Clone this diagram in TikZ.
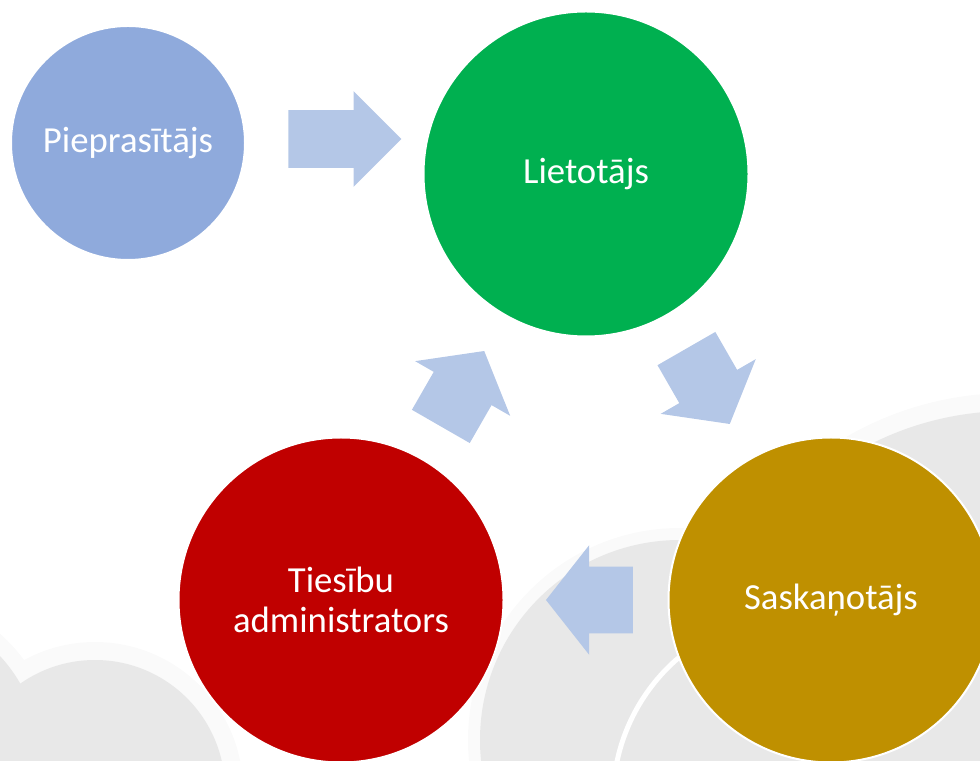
\documentclass[tikz,border=0pt]{standalone}
\usepackage{fontspec}
\setmainfont{Carlito}
\usepackage{xcolor}
\usepackage{tikz}
\usetikzlibrary{shapes.arrows,calc}
\definecolor{bultazila}{HTML}{B4C7E7}
\definecolor{pieprzila}{HTML}{8FAADC}
\definecolor{lietzala}{HTML}{00B050}
\definecolor{saskzelts}{HTML}{BF9000}
\definecolor{tiessarkana}{HTML}{C00000}
\definecolor{makpeleks}{HTML}{E8E8E8}
\definecolor{makmala}{HTML}{FAFAFA}
\tikzset{
  rolis/.style={circle,draw=white,line width=0.4mm,text=white,
    minimum size=65mm,inner sep=0pt,align=center,
    font=\fontsize{20.9}{22.8}\selectfont},
  bulta/.style={single arrow,fill=bultazila,draw=none,inner xsep=0pt,
    inner ysep=6.6mm,minimum height=17.4mm,single arrow head extend=4.3mm,
    single arrow tip angle=103.5,outer sep=0pt},
  lielbulta/.style={bulta,inner ysep=5.7mm,minimum height=22.6mm,
    single arrow head extend=3.8mm,single arrow tip angle=90,anchor=tail}
}

\begin{document}
\begin{tikzpicture}[
  x=0.2mm,y=0.2mm,
  makonis/.style={fill=makpeleks},
  mala/.style={fill=makmala}
]
\clip (0,0) rectangle (980,760);

% 1. Fons
\fill[mala] (1010,40) circle (327);
\fill[mala] (680,20) circle (212);
\fill[mala] (95,-30) circle (148);
\fill[mala] (-110,2) circle (166);
\fill[makonis] (1010,40) circle (309);
\fill[makonis] (680,20) circle (200);
\fill[makonis] (95,-30) circle (130);
\fill[makonis] (-110,2) circle (150);
\draw[white,line width=1mm] ($(800,-40)+(120:187)$) arc[start angle=120,end angle=180,radius=187];

% 2. Lomas
\node[rolis,fill=pieprzila,minimum size=46.8mm] (pie) at (128,617) {Pieprasītājs};
\node[rolis,fill=lietzala] (lie) at (586,586) {Lietotājs};
\node[rolis,fill=saskzelts] (sas) at (831,160) {Saskaņotājs};
\node[rolis,fill=tiessarkana] (tie) at (341,160) {Tiesību\\administrators};

% 3. Bultas
\path (pie.east) -- node[lielbulta,pos=0.24,yshift=0.8mm] (b1) {} (pie.east -| lie.west);
\path (lie) -- node[bulta,sloped,allow upside down,pos=0.415] (b2) {} (sas);
\path (sas) -- node[bulta,sloped,allow upside down,pos=0.398] (b3) {} (tie);
\path (tie) -- node[bulta,sloped,allow upside down,pos=0.408] (b4) {} (lie);

\end{tikzpicture}
\end{document}
